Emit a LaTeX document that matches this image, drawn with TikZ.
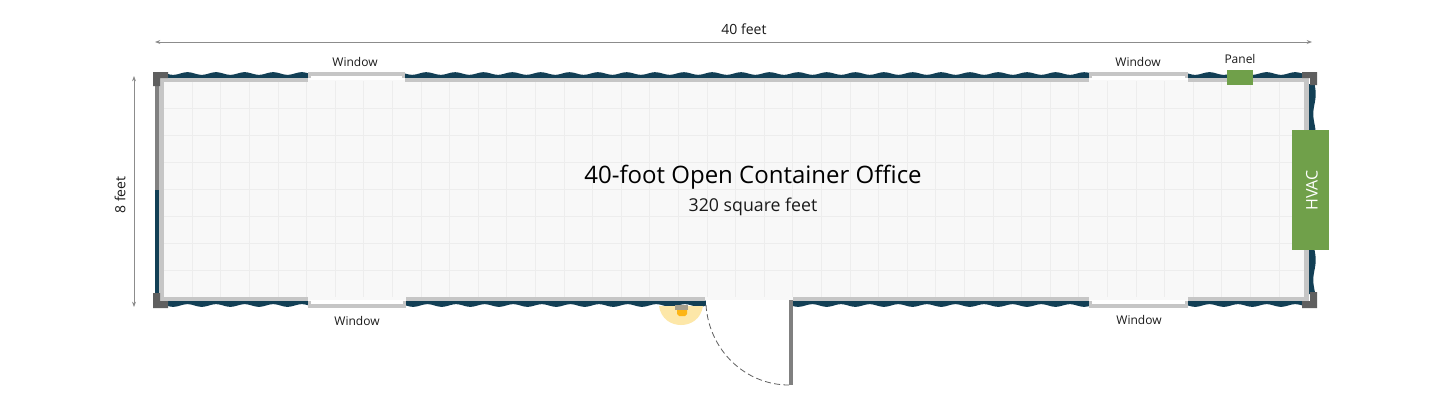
\documentclass[tikz,border=0pt]{standalone}
\usepackage{fontspec}
\setmainfont{Open Sans}
\usetikzlibrary{arrows.meta}
\definecolor{wallblue}{HTML}{123F55}
\definecolor{wallgray}{HTML}{C6C6C6}
\definecolor{postgray}{HTML}{5F5F5F}
\definecolor{leafgray}{HTML}{808080}
\definecolor{floorfill}{HTML}{F8F8F8}
\definecolor{gridline}{HTML}{EDEDED}
\definecolor{unitgreen}{HTML}{70A04A}
\definecolor{glow}{HTML}{FDE7A8}
\definecolor{lamp}{HTML}{FDB515}
\definecolor{dimline}{HTML}{8C8C8C}
\definecolor{inktext}{HTML}{1A1A1A}
\tikzset{
  x=0.75pt,y=-0.75pt,
  label/.style={font=\fontsize{9pt}{11pt}\selectfont,text=inktext,inner sep=0pt},
  dimlabel/.style={font=\fontsize{10.5pt}{12pt}\selectfont,text=inktext,inner sep=0pt},
  dimension/.style={draw=dimline,line width=0.7pt,{Stealth[length=4pt,width=3pt]}-{Stealth[length=4pt,width=3pt]}},
  unit/.style={fill=unitgreen},
}
% wave strip: from x1 to x2, flat edge at y, wavy edge around y+d
\newcommand{\hwave}[4]{\fill[wallblue] (#1,#3) -- plot[domain=#1:#2,samples=300] (\x,{#3+#4+1.3*sin((\x-#1)/28.6*360)}) -- (#2,#3) -- cycle;}
\newcommand{\vwave}[4]{\fill[wallblue] (#3,#1) -- plot[domain=#1:#2,samples=40] ({#3+#4+1.2*sin((\x-#1)/40*360)},\x) -- (#3,#2) -- cycle;}
\begin{document}
\begin{tikzpicture}
\useasboundingbox[fill=white] (0,0) rectangle (1445,404);
% floor
\fill[floorfill] (162,80) rectangle (1306,300);
\foreach \i in {1,...,39} \draw[gridline,line width=0.5pt] ({163.5+\i*28.6},81) -- ({163.5+\i*28.6},297);
\foreach \j in {1,...,7} \draw[gridline,line width=0.5pt] (162,{81+\j*27}) -- (1306,{81+\j*27});
% top wall
\hwave{166}{308}{78.5}{-5}
\hwave{405}{1089}{78.5}{-5}
\hwave{1188}{1304}{78.5}{-5}
\fill[wallgray] (159,78) rectangle (308,82);
\fill[wallgray] (405,78) rectangle (1089,82);
\fill[wallgray] (1188,78) rectangle (1309,82);
% bottom wall
\hwave{166}{308}{300.5}{5}
\hwave{406}{706}{300.5}{5}
\hwave{791}{1089}{300.5}{5}
\hwave{1188}{1304}{300.5}{5}
\fill[wallgray] (159,297) rectangle (308,301);
\fill[wallgray] (406,297) rectangle (705,301);
\fill[wallgray] (793,297) rectangle (1089,301);
\fill[wallgray] (1188,297) rectangle (1309,301);
% left wall
\fill[wallgray] (159,78) rectangle (164,301);
\fill[leafgray] (155,84) rectangle (159,190);
\fill[wallblue] (155,190) rectangle (159,296);
% right wall
\vwave{84}{130}{1309}{5.5}
\vwave{250}{294}{1309}{5.5}
\fill[wallgray] (1304,78) rectangle (1309,301);
% corner posts
\fill[postgray] (153,72) -- (168,72) -- (168,78) -- (160,78) -- (160,86) -- (153,86) -- cycle;
\fill[postgray] (153,293) -- (160,293) -- (160,301) -- (168,301) -- (168,308) -- (153,308) -- cycle;
\fill[postgray] (1302,72) -- (1317,72) -- (1317,85) -- (1310,85) -- (1310,78) -- (1302,78) -- cycle;
\fill[postgray] (1310,292) -- (1317,292) -- (1317,308) -- (1302,308) -- (1302,301) -- (1310,301) -- cycle;
% windows
\foreach \xa/\xb in {308/405,1089/1188}{
  \fill[white] (\xa,76) rectangle (\xb,80);
  \fill[wallgray] (\xa,72) rectangle (\xb,76);
  \fill[wallgray] (\xa,76) rectangle (\xa+3,78);
  \fill[wallgray] (\xb-3,76) rectangle (\xb,78);
}
\foreach \xa/\xb in {308/406,1089/1188}{
  \fill[white] (\xa,300) rectangle (\xb,304);
  \fill[wallgray] (\xa,304) rectangle (\xb,308);
  \fill[wallgray] (\xa,301) rectangle (\xa+3,304);
  \fill[wallgray] (\xb-3,301) rectangle (\xb,304);
}
% light
\fill[glow] (659,306) .. controls (661,319) and (671,325) .. (681,325) .. controls (691,325) and (701,319) .. (703,306) -- cycle;
\fill[leafgray!70!glow] (675,305) rectangle (688,310);
\fill[lamp] (677,310) -- (687,310) -- (687,314) -- (685,316) -- (679,316) -- (677,314) -- cycle;
% door
\fill[white] (706,300) rectangle (789,305);
\fill[leafgray] (789,300) rectangle (793,385);
\draw[postgray,line width=0.6pt,dash pattern=on 4.5pt off 2.5pt] (706,305) .. controls (709,350) and (745,385) .. (789,385);
% units
\node[unit,minimum width=19.5pt,minimum height=11.25pt,inner sep=0pt] (panel) at (1240,77.5) {};
\node[unit,minimum width=27.75pt,minimum height=90pt,inner sep=0pt] (hvac) at (1310.5,190) {};
\node[rotate=90,text=white,font=\fontsize{12pt}{14pt}\selectfont,inner sep=0pt] (hvaclabel) at (1312,190.5) {HVAC};
% dimensions
\coordinate (dl) at (155,42); \coordinate (dr) at (1312,42);
\coordinate (dt) at (134,76); \coordinate (db) at (134,307);
\draw[dimension] (dl) -- (dr);
\draw[dimension] (dt) -- (db);
% labels
\node[dimlabel] (w40) at (744,29) {40 feet};
\node[dimlabel,rotate=90] (h8) at (120,195) {8 feet};
\node[label] (wintl) at (355,62) {Window};
\node[label] (wintr) at (1138,62) {Window};
\node[label] (panellabel) at (1240,59) {Panel};
\node[label] (winbl) at (357,321) {Window};
\node[label] (winbr) at (1139,320) {Window};
\node[font=\fontsize{18pt}{22pt}\selectfont,text=black,inner sep=0pt] (title) at (753,177) {40-foot Open Container Office};
\node[font=\fontsize{13.3pt}{16pt}\selectfont,text=inktext,inner sep=0pt] (sub) at (753,207) {320 square feet};
\end{tikzpicture}
\end{document}
